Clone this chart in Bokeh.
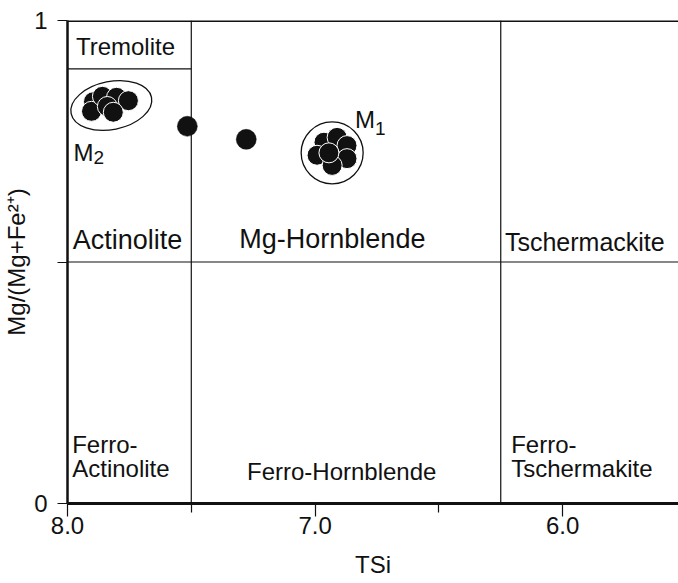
from bokeh.plotting import figure
from bokeh.models import Range1d, FixedTicker, Span, ColumnDataSource, NumeralTickFormatter
from bokeh.core.properties import value
from bokeh.embed import file_html
from bokeh.resources import INLINE

FONT = "Liberation Sans"
INK = "#111111"

# ---- classification boundaries (TSi, Mg/(Mg+Fe2+)) ----
tsi_boundaries = [7.5, 6.25]
mg_boundary = 0.5
tremolite_mg = 0.9
tremolite_tsi = [8.0, 7.5]

# ---- single analyses ----
single_tsi = [7.516, 7.278]
single_mg = [0.781, 0.754]

# ---- M2 cluster ----
m2_tsi = [7.895, 7.903, 7.859, 7.802, 7.754, 7.839, 7.815]
m2_mg = [0.832, 0.812, 0.843, 0.841, 0.834, 0.822, 0.810]
m2_center_tsi = [7.823]
m2_center_mg = [0.824]

# ---- M1 cluster ----
m1_tsi = [6.964, 6.911, 6.871, 6.992, 6.871, 6.931, 6.944]
m1_mg = [0.748, 0.758, 0.741, 0.721, 0.714, 0.700, 0.726]
m1_center_tsi = [6.931]
m1_center_mg = [0.726]

# ---- field names ----
field_text = ["Tremolite", "Actinolite", "Mg-Hornblende", "Tschermackite",
              "Ferro-", "Actinolite", "Ferro-Hornblende", "Ferro-", "Tschermakite"]
field_tsi = [7.966, 7.979, 7.306, 6.233, 7.981, 7.981, 7.275, 6.208, 6.208]
field_mg = [0.946, 0.545, 0.547, 0.541, 0.123, 0.072, 0.066, 0.123, 0.072]
field_size = ["24px", "27px", "27px", "25px", "24px", "24px", "24px", "24px", "24px"]

# ---- group labels ----
group_text = ["M", "M"]
group_tsi = [7.976, 6.839]
group_mg = [0.727, 0.794]
sub_text = ["2", "1"]
sub_tsi = [7.895, 6.758]
sub_mg = [0.717, 0.776]

x_ticks = [8.0, 7.0, 6.0]
x_minor = [7.5, 6.5]
y_ticks = [0.0, 0.5, 1.0]

p = figure(width=678, height=583, output_backend="svg", toolbar_location=None,
           x_range=Range1d(8.0, 5.532), y_range=Range1d(0.0, 1.0),
           min_border_left=66, min_border_top=20, min_border_bottom=80, min_border_right=0)
p.outline_line_color = None
p.xgrid.visible = False
p.ygrid.visible = False
p.background_fill_color = "white"
p.border_fill_color = "white"

# axes
for ax in (p.xaxis[0], p.yaxis[0]):
    ax.axis_line_color = INK
    ax.major_tick_line_color = INK
    ax.minor_tick_line_color = INK
    ax.major_tick_in = 0
    ax.minor_tick_in = 0
    ax.major_label_text_font = FONT
    ax.major_label_text_font_size = "24px"
    ax.major_label_text_color = INK
    ax.axis_label_text_font = FONT
    ax.axis_label_text_font_size = "24px"
    ax.axis_label_text_font_style = "normal"
    ax.axis_label_text_color = INK

p.xaxis.ticker = FixedTicker(ticks=x_ticks, minor_ticks=x_minor)
p.xaxis.formatter = NumeralTickFormatter(format="0.0")
p.xaxis.axis_line_width = 3
p.xaxis.major_tick_out = 13
p.xaxis.minor_tick_out = 9
p.xaxis.major_tick_line_width = 1.2
p.xaxis.minor_tick_line_width = 1.2
p.xaxis.major_label_standoff = 0
p.xaxis.axis_label = "TSi"
p.xaxis.axis_label_standoff = 14

p.yaxis.ticker = FixedTicker(ticks=y_ticks, minor_ticks=[])
p.yaxis.major_label_overrides = {0.5: ""}
p.yaxis.axis_line_width = 2.5
p.yaxis.major_tick_out = 10
p.yaxis.major_tick_line_width = 1.2
p.yaxis.major_label_standoff = 10
p.yaxis.axis_label = "Mg/(Mg+Fe²⁺)"
p.yaxis.axis_label_standoff = 1

# top border
p.add_layout(Span(location=1.0, dimension="width", line_color=INK, line_width=3))

# boundaries
for xb in tsi_boundaries:
    p.add_layout(Span(location=xb, dimension="height", line_color=INK, line_width=1.2))
p.add_layout(Span(location=mg_boundary, dimension="width", line_color=INK, line_width=1.2))
p.line(x=tremolite_tsi, y=[tremolite_mg, tremolite_mg], line_color=INK, line_width=1.2)

# enclosures
p.ellipse(x=m2_center_tsi, y=m2_center_mg, width=82, height=48,
          width_units="screen", height_units="screen", angle=0.2,
          fill_color=None, line_color=INK, line_width=1.3)
p.ellipse(x=m1_center_tsi, y=m1_center_mg, width=62, height=62,
          width_units="screen", height_units="screen",
          fill_color=None, line_color=INK, line_width=1.3)

# points
p.scatter(x=m2_tsi, y=m2_mg, size=20, fill_color=INK, line_color="white", line_width=1)
p.scatter(x=m1_tsi, y=m1_mg, size=20, fill_color=INK, line_color="white", line_width=1)
p.scatter(x=single_tsi, y=single_mg, size=20, fill_color=INK, line_color=INK, line_width=0.5)

# field labels
src = ColumnDataSource(dict(x=field_tsi, y=field_mg, text=field_text, size=field_size))
p.text(x="x", y="y", text="text", source=src, text_font=value(FONT), text_font_size="size",
       text_align="left", text_baseline="alphabetic", text_color=INK)

p.text(x=group_tsi, y=group_mg, text=group_text, text_font=value(FONT), text_font_size="24px",
       text_align="left", text_baseline="alphabetic", text_color=INK)
p.text(x=sub_tsi, y=sub_mg, text=sub_text, text_font=value(FONT), text_font_size="19px",
       text_align="left", text_baseline="alphabetic", text_color=INK)

open("out.html", "w").write(file_html(p, INLINE))
